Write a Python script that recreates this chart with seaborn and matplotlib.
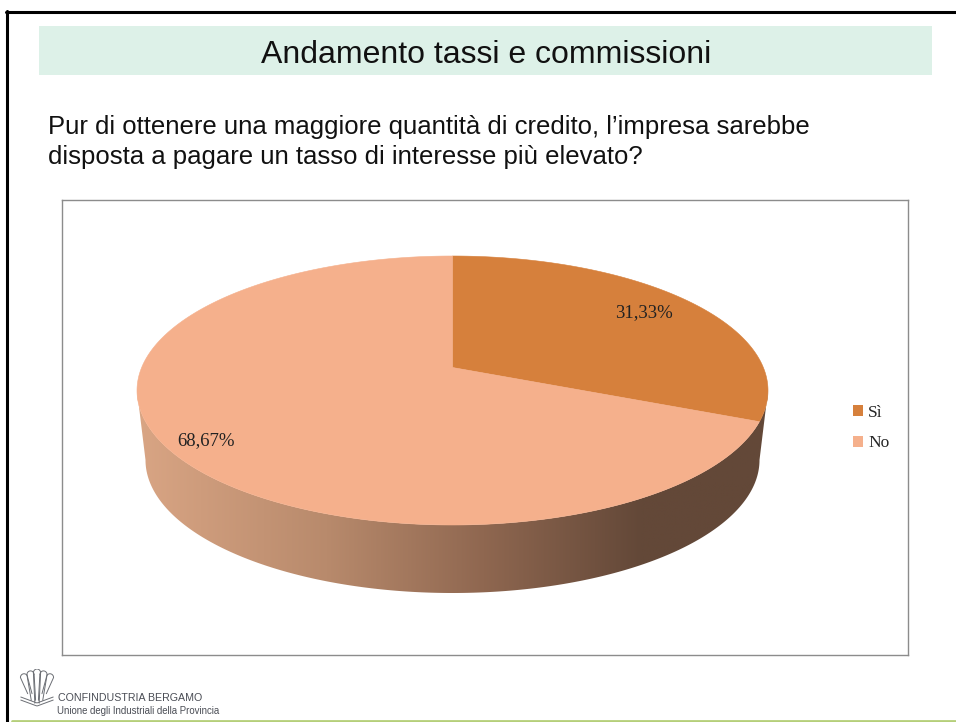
import matplotlib
matplotlib.use("Agg")
from matplotlib import pyplot as plt
from matplotlib.patches import Polygon, Rectangle
from matplotlib.lines import Line2D
from matplotlib.colors import LinearSegmentedColormap
import seaborn as sns
import numpy as np

categories = ["Sì", "No"]
shares = [31.33, 68.67]
pie_colors = ["#D6803C", "#F5B08C"]
title = "Andamento tassi e commissioni"
question = ["Pur di ottenere una maggiore quantità di credito, l’impresa sarebbe",
            "disposta a pagare un tasso di interesse più elevato?"]
logo_lines = ["CONFINDUSTRIA BERGAMO", "Unione degli Industriali della Provincia"]

W, H = 956, 722
# pie ellipse on the page, in pixels
CX, CY, RX, RY = 452.5, 390.5, 315.5, 134.5
TILT = 0.171  # how far the pie centre sits above the ellipse centre
WALL_CX, WALL_CY, WALL_RX, WALL_RY = 452.5, 460.0, 307.0, 133.0

sns.set_theme(style="white")
plt.rcParams["font.family"] = ["Liberation Sans", "DejaVu Sans"]


def tilt(xy):
    # perspective of the unit circle onto the ellipse
    u, v = xy[:, 0], xy[:, 1]
    d = 1 + TILT * v
    return np.column_stack([u * np.sqrt(1 - TILT ** 2) / d, (v + TILT) / d])


def box(x0, y0, x1, y1):
    return [x0 / W, 1 - y1 / H, (x1 - x0) / W, (y1 - y0) / H]


fig = plt.figure(figsize=(W / 100, H / 100), dpi=100, facecolor="white")

# slide decoration
fig.add_artist(Rectangle((39 / W, 1 - 75 / H), 893 / W, 49 / H, transform=fig.transFigure,
                         fc="#DDF1E8", ec="none"))
fig.add_artist(Line2D([6.5 / W, 6.5 / W], [0, 1 - 11 / H], color="black", lw=2.2))
fig.add_artist(Line2D([5.5 / W, 1], [1 - 12 / H, 1 - 12 / H], color="black", lw=2.2))
fig.add_artist(Line2D([12 / W, 1], [1 - 720.5 / H, 1 - 720.5 / H], color="#B5CF7A", lw=2))
fig.text(486 / W, 1 - 55 / H, title, fontsize=23, color="#111111", ha="center", va="center")
for line, y in zip(question, [127, 157]):
    fig.text(48 / W, 1 - y / H, line, fontsize=18.5, color="#111111", ha="left", va="center")

# chart frame, axes run in units of the pie radius
x0, y0, x1, y1 = 62, 200, 908, 655
ax = fig.add_axes(box(x0, y0, x1, y1))
wedges, _ = ax.pie(shares, colors=pie_colors, startangle=90, counterclock=False,
                   wedgeprops={"linewidth": 0}, radius=1)
ax.set_axis_on()
ax.set_frame_on(True)
ax.set_xticks([])
ax.set_yticks([])
for s in ax.spines.values():
    s.set_visible(True)
    s.set_color("#8C8C8C")
    s.set_linewidth(1)

# side wall, shaded left to right
t = np.linspace(np.pi, 2 * np.pi, 300)
top = np.column_stack([np.cos(t), np.sin(t)])
bx = (WALL_CX + WALL_RX * np.cos(t) - CX) / RX
by = (CY - WALL_CY + WALL_RY * np.sin(t)) / RY
wall = np.vstack([top, np.column_stack([bx, by])[::-1]])
shade = LinearSegmentedColormap.from_list(
    "wall", [(0, "#D9A584"), (0.3, "#B88A6C"), (0.55, "#8F6750"), (0.8, "#634838"), (1, "#634838")])
wall_img = ax.imshow(np.linspace(0, 1, 256)[None, :], cmap=shade, aspect="auto", zorder=0.5,
                     extent=(-1, 1, -1.6, 0.2))
clip = Polygon(wall, transform=ax.transData, fc="none", ec="none")
ax.add_patch(clip)
wall_img.set_clip_path(clip)
ax.set_aspect("auto")
ax.set_xlim((x0 - CX) / RX, (x1 - CX) / RX)
ax.set_ylim((CY - y1) / RY, (CY - y0) / RY)

# top face: the pie's own wedges seen in perspective
for w in wedges:
    a = np.radians(np.linspace(w.theta1, w.theta2, 300))
    poly = np.vstack([[0, 0], np.column_stack([np.cos(a), np.sin(a)])])
    w.set_visible(False)
    ax.add_patch(Polygon(tilt(poly), fc=w.get_facecolor(), ec=w.get_facecolor(), lw=0.4, zorder=2))

# value labels
label_font = ["Liberation Serif", "DejaVu Serif"]
label_pos = [(0.607, 0.58), (-0.78, -0.37)]
for v, (lx, ly) in zip(shares, label_pos):
    ax.text(lx, ly, f"{v:.2f}%".replace(".", ","), fontsize=13.5, family=label_font,
            color="#222222", ha="center", va="center", zorder=3)

handles = [Rectangle((0, 0), 1, 1, fc=c, ec="none") for c in pie_colors]
leg = ax.legend(handles, categories, loc="center left", frameon=False,
                handlelength=0.57, handleheight=0.57, handletextpad=0.3, labelspacing=0.85,
                borderpad=0, borderaxespad=0,
                prop={"family": label_font, "size": 12.5},
                bbox_to_anchor=(853 / W, 1 - 428 / H), bbox_transform=fig.transFigure)

# logo: five arches closing towards the foot
lax = fig.add_axes(box(19, 669, 55, 707))
lax.set_xlim(-1, 1)
lax.set_ylim(-1, 1)
lax.axis("off")
arch = np.linspace(0, np.pi, 24)
for c, top_y, foot_y in [(-0.72, 0.55, -0.3), (-0.36, 0.7, -0.65), (0, 0.8, -0.8),
                         (0.36, 0.7, -0.65), (0.72, 0.55, -0.3)]:
    lax.plot(c + 0.2 * np.cos(arch), top_y + 0.2 * np.sin(arch), color="#6B6E74", lw=0.7)
    for side in (-1, 1):
        lax.plot([c + side * 0.2, 0.55 * c + side * 0.12], [top_y, foot_y], color="#6B6E74", lw=0.7)
wave = np.linspace(-0.9, 0.9, 30)
for dy in (0, 0.16):
    lax.plot(wave, -0.95 + dy + 0.35 * np.abs(wave), color="#6B6E74", lw=0.7)
fig.text(58 / W, 1 - 698 / H, logo_lines[0], fontsize=7.7, color="#4A4D55", ha="left", va="center")
fig.text(57 / W, 1 - 711 / H, logo_lines[1], fontsize=6.9, color="#4A4D55", ha="left", va="center")

fig.savefig("out.png", dpi=100)
